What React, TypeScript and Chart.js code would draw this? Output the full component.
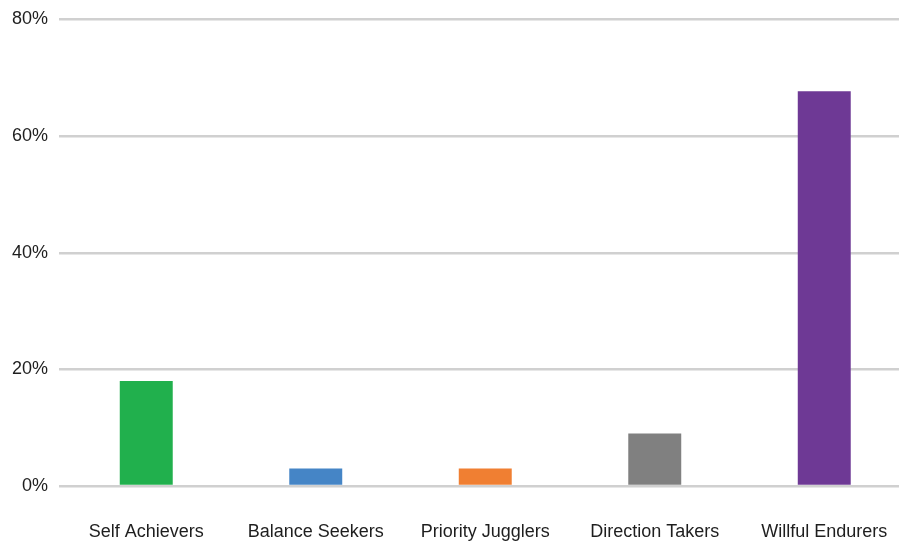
import React, { useEffect, useRef } from "react";
import { Chart, registerables } from "chart.js";

Chart.register(...registerables);

const categories = ["Self Achievers", "Balance Seekers", "Priority Jugglers", "Direction Takers", "Willful Endurers"];
const values = [18, 3, 3, 9, 67.7];
const barColors = ["#21b04d", "#4585c6", "#f07f32", "#808080", "#6e3995"];
const yTicks = [0, 20, 40, 60, 80];

export default function App() {
  const ref = useRef<HTMLCanvasElement | null>(null);
  useEffect(() => {
    if (!ref.current) return;
    const font = { family: "'Liberation Sans', Arial, Helvetica, sans-serif", size: 18 };
    const chart = new Chart(ref.current, {
      type: "bar",
      data: {
        labels: categories,
        datasets: [
          {
            data: values,
            backgroundColor: barColors,
            barPercentage: 0.625,
            categoryPercentage: 0.5,
          },
        ],
      },
      options: {
        animation: false,
        responsive: false,
        maintainAspectRatio: false,
        layout: { padding: { top: 19.5, right: 1, bottom: 0, left: 0 } },
        plugins: { legend: { display: false }, tooltip: { enabled: false } },
        scales: {
          x: {
            grid: { display: false, drawTicks: true, tickLength: 32 },
            border: { display: false },
            ticks: { color: "#1e1e1e", font, padding: 3, maxRotation: 0 },
            afterFit: (s: any) => {
              s.height = 56;
              s.paddingLeft = 0;
              s.paddingRight = 0;
            },
          },
          y: {
            min: 0,
            max: 80,
            afterBuildTicks: (s: any) => {
              s.ticks = yTicks.map((v) => ({ value: v }));
            },
            grid: { color: "#d0d0d0", lineWidth: 2.5, drawTicks: true, tickLength: 2.5 },
            border: { display: false },
            ticks: {
              color: "#1e1e1e",
              font,
              padding: 11,
              callback: (v: any) => v + "%",
            },
            afterFit: (s: any) => {
              s.width = 61.5;
              s.paddingTop = 0;
              s.paddingBottom = 0;
            },
          },
        },
      },
    });
    return () => chart.destroy();
  }, []);
  return (
    <div style={{ position: "absolute", left: 0, top: 0, width: 899, height: 542, overflow: "hidden", background: "#fff" }}>
      <canvas ref={ref} width={910} height={542} style={{ display: "block", width: 910, height: 542 }} />
    </div>
  );
}
